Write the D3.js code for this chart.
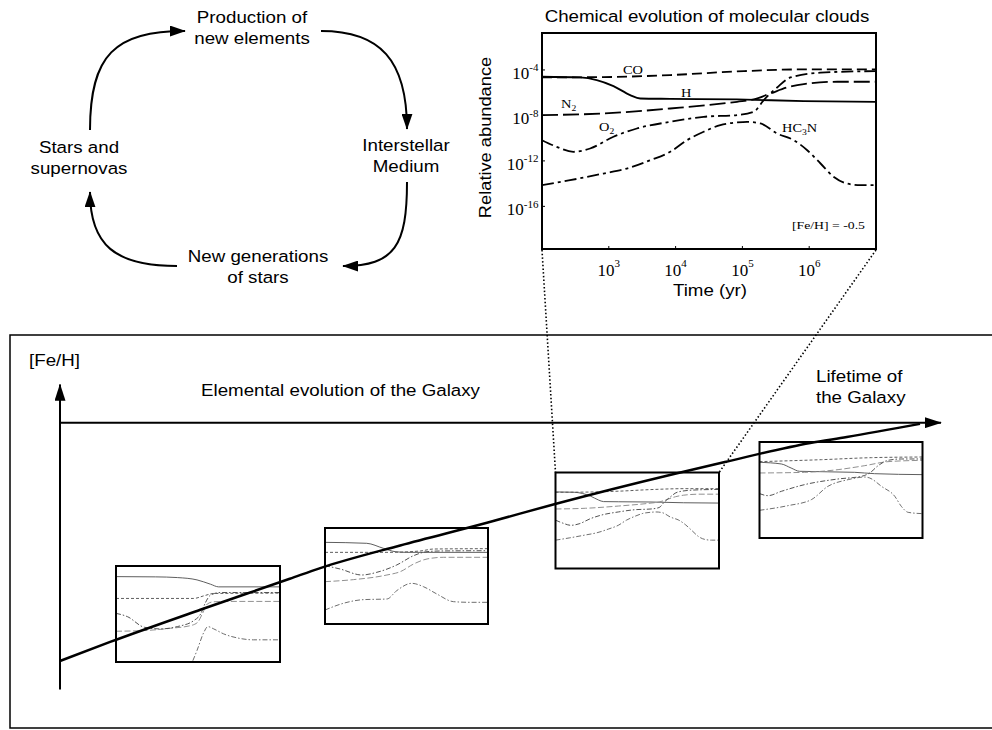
<!DOCTYPE html>
<html>
<head>
<meta charset="utf-8">
<script src="https://cdn.jsdelivr.net/npm/d3@7"></script>
<style>
  html, body { margin: 0; padding: 0; background: #fff; }
  svg { display: block; }
</style>
</head>
<body>
<svg id="fig" width="992" height="730"></svg>
<script>
// ---------------------------------------------------------------
// Data
// ---------------------------------------------------------------

// Cycle of matter (top-left diagram), one entry per stage, two lines each
const cycleStages = [
  ["Production of", "new elements"],
  ["Interstellar", "Medium"],
  ["New generations", "of stars"],
  ["Stars and", "supernovas"]
];

// Molecular-cloud chemistry axes (log10 of time in yr, log10 of abundance)
const timeTicks = [3, 4, 5, 6];
const abundTicks = [-4, -8, -12, -16];
const timeDomain = [2, 7];
const abundDomain = [-19.75, -0.75];

// Cloud chemistry runs, [log10 t(yr), log10 abundance] pairs
// [Fe/H] = -1.5
const h_m15 = [[2, -2.85], [3.2, -2.9], [3.87, -3.04], [4.47, -3.5], [4.88, -4.35], [5.13, -4.88], [7, -4.88]];
const co_m15 = [[2, -7.17], [4.37, -7.17], [4.68, -6.65], [4.98, -6.19], [7, -6.12]];
const n2_m15 = [[2, -13.66], [2.86, -13.53], [3.67, -13.07], [4.27, -12.55], [4.49, -11.89], [4.63, -10.25], [4.78, -8.29], [4.98, -7.83], [5.38, -7.76], [7, -7.76]];
const o2_m15 = [[2, -10.12], [2.35, -10.78], [2.86, -12.87], [3.36, -13.2], [3.87, -12.74], [4.37, -11.56], [4.58, -10.25], [4.73, -7.96], [4.88, -6.52], [5.18, -6.0], [7, -6.0]];
const hc3n_m15 = [[4.22, -21.39], [4.47, -17.46], [4.68, -13.86], [4.8, -12.74], [4.98, -13.2], [5.28, -14.18], [5.69, -14.97], [6.19, -15.36], [7, -15.36]];

// [Fe/H] = -1.0
const h_m10 = [[2, -3.59], [3.28, -3.78], [3.79, -4.77], [4.15, -5.43], [4.51, -5.57], [7, -5.57]];
const co_m10 = [[2, -5.57], [3.9, -5.57], [4.92, -5.3], [5.33, -4.91], [7, -4.84]];
const n2_m10 = [[2, -11.37], [2.87, -10.97], [3.9, -10.05], [4.31, -9.39], [4.72, -7.87], [5.13, -6.88], [5.64, -6.55], [7, -6.55]];
const o2_m10 = [[2, -8.2], [2.46, -8.86], [3.13, -10.05], [3.59, -9.52], [4.2, -8.07], [4.72, -6.22], [5.13, -5.43], [5.53, -5.3], [7, -5.24]];
const hc3n_m10 = [[2, -16.98], [2.56, -15.66], [3.18, -14.93], [3.9, -14.8], [4.2, -13.15], [4.66, -11.7], [5.02, -12.36], [5.43, -13.81], [5.94, -15.33], [6.46, -15.46], [7, -15.46]];

// [Fe/H] = -0.5 (also shown enlarged)
const h_m05 = [[2, -4.6], [2.57, -4.66], [2.82, -4.89], [3.07, -5.42], [3.32, -6.21], [3.47, -6.51], [3.92, -6.54], [4.92, -6.59], [5.92, -6.74], [7, -6.8]];
const co_m05 = [[2, -4.66], [2.92, -4.63], [3.92, -4.45], [4.92, -4.13], [5.92, -3.95], [7, -3.95]];
const n2_m05 = [[2, -7.97], [2.92, -7.83], [3.92, -7.39], [4.92, -6.8], [5.17, -6.59], [5.42, -6.07], [5.67, -5.54], [5.92, -5.24], [6.42, -5.04], [7, -5.04]];
const o2_m05 = [[2, -10.18], [2.22, -10.76], [2.47, -11.2], [2.72, -10.91], [3.07, -9.88], [3.42, -9.15], [3.92, -8.56], [4.42, -8.12], [4.92, -7.97], [5.17, -7.68], [5.32, -6.65], [5.52, -5.54], [5.72, -4.66], [6.17, -4.24], [7, -4.1]];
const hc3n_m05 = [[2, -14.14], [2.42, -13.7], [2.92, -13.11], [3.27, -12.67], [3.62, -11.94], [3.92, -11.2], [4.17, -10.18], [4.42, -9.44], [4.67, -8.85], [4.92, -8.62], [5.07, -8.56], [5.27, -8.71], [5.52, -9.59], [5.77, -10.18], [5.97, -11.06], [6.17, -12.23], [6.37, -13.41], [6.57, -14.0], [6.77, -14.14], [7, -14.14]];

// [Fe/H] = 0.0
const h_p00 = [[2, -4.77], [2.67, -5.1], [2.97, -5.9], [3.23, -6.55], [4.92, -6.75], [5.53, -7.02], [7, -7.21]];
const co_p00 = [[2, -4.64], [3.9, -4.25], [5.43, -3.85], [7, -3.72]];
const n2_p00 = [[2, -6.88], [3.38, -6.75], [4.41, -6.22], [5.23, -5.43], [5.94, -4.64], [7, -4.38]];
const o2_p00 = [[2, -10.97], [2.26, -11.37], [2.67, -10.51], [3.38, -9.19], [4.41, -8.07], [5.13, -7.54], [5.38, -6.88], [5.64, -5.43], [5.94, -4.38], [6.35, -4.11], [7, -4.11]];
const hc3n_p00 = [[2, -14.27], [2.87, -13.35], [3.59, -12.16], [4.1, -9.52], [4.72, -8.2], [5.23, -7.68], [5.38, -7.87], [5.74, -9.52], [6.15, -11.5], [6.35, -13.48], [6.56, -14.67], [7, -14.93]];

const cloudRuns = [
  { feh: -1.5, H: h_m15, CO: co_m15, N2: n2_m15, O2: o2_m15, HC3N: hc3n_m15 },
  { feh: -1.0, H: h_m10, CO: co_m10, N2: n2_m10, O2: o2_m10, HC3N: hc3n_m10 },
  { feh: -0.5, H: h_m05, CO: co_m05, N2: n2_m05, O2: o2_m05, HC3N: hc3n_m05 },
  { feh: 0.0, H: h_p00, CO: co_p00, N2: n2_p00, O2: o2_p00, HC3N: hc3n_p00 }
];
const speciesNames = ["CO", "H", "N2", "O2", "HC3N"];

// Galactic chemical evolution: age (Gyr) and [Fe/H]
const galaxyAge = [0, 0.74, 2.07, 3.39, 3.84, 5.02, 6.30, 7.32, 9.06, 9.81, 11.07, 11.61, 12.69];
const galaxyFeH = [-2.0, -1.84, -1.57, -1.31, -1.22, -1.03, -0.84, -0.68, -0.43, -0.33, -0.17, -0.12, -0.01];

// ---------------------------------------------------------------
// Styles and layout
// ---------------------------------------------------------------
const SANS = "'Liberation Sans', Arial, Helvetica, sans-serif";
const SERIF = "'Liberation Serif', 'Times New Roman', Times, serif";
const SX = 1.15;       // horizontal stretch of the sans captions
const SANS_SIZE = 16.3;

const mainDash = { H: null, CO: "10,5", N2: "16,5", O2: "12,4,3,4", HC3N: "12,4,3,4" };
const miniDash = { H: null, CO: "3,2", N2: "6,2.5", O2: "5,2,1.5,2", HC3N: "5,2,1.5,2" };
const miniColor = { H: "#555", CO: "#555", N2: "#8a8a8a", O2: "#4a4a4a", HC3N: "#666" };

const mainBox = { x0: 542, x1: 876, y0: 33, y1: 249 };
const miniBoxes = [
  { x: 116, y: 566, w: 164, h: 96 },
  { x: 325, y: 528, w: 163, h: 96 },
  { x: 555.5, y: 472.5, w: 163.5, h: 96 },
  { x: 759.5, y: 442, w: 163, h: 96 }
];

const svg = d3.select("#fig");
const defs = svg.append("defs");

function arrowMarker(id, len, wid) {
  defs.append("marker")
    .attr("id", id)
    .attr("viewBox", "0 0 10 10")
    .attr("preserveAspectRatio", "none")
    .attr("refX", 9.5).attr("refY", 5)
    .attr("markerUnits", "userSpaceOnUse")
    .attr("markerWidth", len).attr("markerHeight", wid)
    .attr("orient", "auto")
    .append("path").attr("d", "M0,0L10,5L0,10Z").attr("fill", "#000");
}
arrowMarker("head-cycle", 16, 11);
arrowMarker("head-axis", 17, 11);

// text helper: parts are plain strings or {t, dy, size}
function label(parent, x, y, parts, o = {}) {
  const t = parent.append("text")
    .attr("transform", `translate(${x},${y}) rotate(${o.rot || 0}) scale(${o.sx || 1},1)`)
    .attr("text-anchor", o.anchor || "middle")
    .style("font-family", o.family || SANS)
    .style("font-size", (o.size || SANS_SIZE) + "px")
    .attr("fill", "#000");
  (Array.isArray(parts) ? parts : [parts]).forEach(p => {
    const s = typeof p === "string" ? { t: p } : p;
    const ts = t.append("tspan").text(s.t);
    if (s.dy) ts.attr("dy", s.dy);
    if (s.size) ts.style("font-size", s.size + "px");
  });
  return t;
}

// ---------------------------------------------------------------
// Cycle of matter
// ---------------------------------------------------------------
const cycle = svg.append("g");
const stagePos = [[252, 23], [406, 151], [258, 262], [79, 153]];
cycleStages.forEach((lines, i) => {
  lines.forEach((ln, j) => label(cycle, stagePos[i][0], stagePos[i][1] + j * 20.5, ln, { sx: SX }));
});
const cyclePaths = [
  "M90,130 C90,55 115,31 185,31",
  "M321,31 C380,31 407,60 407,129",
  "M407,182 C407,245 395,266 343,266",
  "M177,266 C115,266 90,245 90,192"
];
cycle.selectAll("path.cyc").data(cyclePaths).join("path")
  .attr("class", "cyc")
  .attr("d", d => d)
  .attr("fill", "none").attr("stroke", "#000").attr("stroke-width", 2)
  .attr("marker-end", "url(#head-cycle)");

// ---------------------------------------------------------------
// Galaxy panel
// ---------------------------------------------------------------
const gal = svg.append("g");
gal.append("rect").attr("x", 10).attr("y", 335).attr("width", 1000).attr("height", 393)
  .attr("fill", "none").attr("stroke", "#000").attr("stroke-width", 1.5);

const xGal = d3.scaleLinear().domain([0, 13]).range([60, 941]);
const yGal = d3.scaleLinear().domain([-2, 0]).range([661, 422.7]);

gal.append("line")
  .attr("x1", xGal(0)).attr("x2", xGal(0))
  .attr("y1", yGal(-2.24)).attr("y2", yGal(0.32))
  .attr("stroke", "#000").attr("stroke-width", 2)
  .attr("marker-end", "url(#head-axis)");
gal.append("line")
  .attr("x1", xGal(0)).attr("x2", xGal(13))
  .attr("y1", yGal(0)).attr("y2", yGal(0))
  .attr("stroke", "#000").attr("stroke-width", 2)
  .attr("marker-end", "url(#head-axis)");

label(gal, 29, 366, "[Fe/H]", { anchor: "start", sx: SX });
label(gal, 201, 396, "Elemental evolution of the Galaxy", { anchor: "start", sx: SX });
label(gal, 816, 382, "Lifetime of", { anchor: "start", sx: SX });
label(gal, 816, 403, "the Galaxy", { anchor: "start", sx: SX });

// miniature cloud charts, one per metallicity
const pairLine = (xs, ys) => d3.line()
  .x(d => xs(Math.pow(10, d[0])))
  .y(d => ys(Math.pow(10, d[1])))
  .curve(d3.curveMonotoneX);

cloudRuns.forEach((run, i) => {
  const b = miniBoxes[i];
  const g = gal.append("g");
  const xs = d3.scaleLog().domain(timeDomain.map(v => Math.pow(10, v))).range([b.x, b.x + b.w]);
  const ys = d3.scaleLog().domain(abundDomain.map(v => Math.pow(10, v))).range([b.y + b.h, b.y]);
  const clipId = "mini-clip-" + i;
  defs.append("clipPath").attr("id", clipId)
    .append("rect").attr("x", b.x).attr("y", b.y).attr("width", b.w).attr("height", b.h);
  g.append("rect").attr("x", b.x).attr("y", b.y).attr("width", b.w).attr("height", b.h).attr("fill", "#fff");
  const lg = g.append("g").attr("clip-path", `url(#${clipId})`);
  const line = pairLine(xs, ys);
  speciesNames.forEach(sp => {
    lg.append("path").attr("d", line(run[sp]))
      .attr("fill", "none").attr("stroke", miniColor[sp]).attr("stroke-width", 0.95)
      .attr("stroke-dasharray", miniDash[sp]);
  });
  g.append("rect").attr("x", b.x).attr("y", b.y).attr("width", b.w).attr("height", b.h)
    .attr("fill", "none").attr("stroke", "#000").attr("stroke-width", 2);
});

// metallicity history of the Galaxy
const galPts = galaxyAge.map((a, i) => [a, galaxyFeH[i]]);
gal.append("path")
  .attr("d", d3.line().x(d => xGal(d[0])).y(d => yGal(d[1])).curve(d3.curveMonotoneX)(galPts))
  .attr("fill", "none").attr("stroke", "#000").attr("stroke-width", 2.5);

// connectors from the enlarged chart to its miniature
const zb = miniBoxes[2];
[[mainBox.x0, zb.x], [mainBox.x1, zb.x + zb.w]].forEach(([xa, xb]) => {
  svg.append("line")
    .attr("x1", xa).attr("y1", mainBox.y1 + 1)
    .attr("x2", xb).attr("y2", zb.y)
    .attr("stroke", "#000").attr("stroke-width", 1.6).attr("stroke-dasharray", "1.5,2.2");
});

// ---------------------------------------------------------------
// Enlarged molecular-cloud chart ([Fe/H] = -0.5)
// ---------------------------------------------------------------
const chem = svg.append("g");
const xMain = d3.scaleLog().domain(timeDomain.map(v => Math.pow(10, v))).range([mainBox.x0, mainBox.x1]);
const yMain = d3.scaleLog().domain(abundDomain.map(v => Math.pow(10, v))).range([mainBox.y1, mainBox.y0]);

chem.append("rect")
  .attr("x", mainBox.x0).attr("y", mainBox.y0)
  .attr("width", mainBox.x1 - mainBox.x0).attr("height", mainBox.y1 - mainBox.y0)
  .attr("fill", "#fff");

defs.append("clipPath").attr("id", "main-clip")
  .append("rect").attr("x", mainBox.x0).attr("y", mainBox.y0)
  .attr("width", mainBox.x1 - mainBox.x0).attr("height", mainBox.y1 - mainBox.y0);

const mainRun = cloudRuns[2];
const mainLine = pairLine(xMain, yMain);
const curves = chem.append("g").attr("clip-path", "url(#main-clip)");
speciesNames.forEach(sp => {
  curves.append("path").attr("d", mainLine(mainRun[sp]))
    .attr("fill", "none").attr("stroke", "#000").attr("stroke-width", 1.8)
    .attr("stroke-dasharray", mainDash[sp]);
});

// ticks (short, inward) and tick labels
timeTicks.forEach(e => {
  const x = xMain(Math.pow(10, e));
  chem.append("line").attr("x1", x).attr("x2", x).attr("y1", mainBox.y1).attr("y2", mainBox.y1 - 3)
    .attr("stroke", "#000").attr("stroke-width", 1);
  label(chem, x, 275.5, ["10", { t: String(e), dy: -8.5, size: 11 }], { family: SERIF, size: 17 });
});
abundTicks.forEach(e => {
  const y = yMain(Math.pow(10, e));
  chem.append("line").attr("x1", mainBox.x0).attr("x2", mainBox.x0 + 3).attr("y1", y).attr("y2", y)
    .attr("stroke", "#000").attr("stroke-width", 1);
  label(chem, 538.5, y + 9, ["10", { t: String(e), dy: -7.5, size: 11 }], { family: SERIF, size: 17, anchor: "end" });
});

chem.append("rect")
  .attr("x", mainBox.x0).attr("y", mainBox.y0)
  .attr("width", mainBox.x1 - mainBox.x0).attr("height", mainBox.y1 - mainBox.y0)
  .attr("fill", "none").attr("stroke", "#000").attr("stroke-width", 2);

// species labels
const serifLab = { family: SERIF, size: 12, sx: 1.2, anchor: "start" };
label(chem, 623, 74, "CO", serifLab);
label(chem, 681, 96.5, "H", serifLab);
label(chem, 561, 107.5, ["N", { t: "2", dy: 3, size: 8 }], serifLab);
label(chem, 599, 131, ["O", { t: "2", dy: 3, size: 8 }], serifLab);
label(chem, 782, 131.5, ["HC", { t: "3", dy: 3, size: 8 }, { t: "N", dy: -3 }], serifLab);
label(chem, 792, 228.5, "[Fe/H] = -0.5", { family: SERIF, size: 11, sx: 1.25, anchor: "start" });

// titles
label(chem, 707, 22, "Chemical evolution of molecular clouds", { sx: SX });
label(chem, 710, 296, "Time (yr)", { sx: SX });
label(chem, 491, 137.5, "Relative abundance", { rot: -90, sx: 1.12 });
</script>
</body>
</html>
